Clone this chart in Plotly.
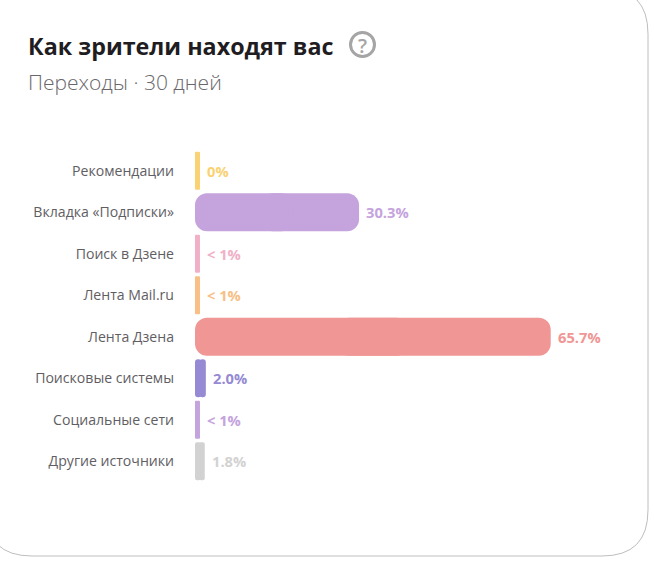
import plotly.graph_objects as go

W = 654
H = 576

categories = ['Рекомендации', 'Вкладка «Подписки»', 'Поиск в Дзене', 'Лента Mail.ru',
              'Лента Дзена', 'Поисковые системы', 'Социальные сети', 'Другие источники']
# share of views in %, the < 1% ones are estimates
values = [0, 30.3, 0.5, 0.5, 65.7, 2.0, 0.5, 1.8]
value_labels = ['0%', '30.3%', '< 1%', '< 1%', '65.7%', '2.0%', '< 1%', '1.8%']
colors = ['#F9D273', '#C5A3DD', '#F0B1C8', '#F8BF86', '#F09695', '#958AD3', '#C5A3DD', '#D2D2D2']

MIN_BAR = 0.92  # small values still get a thin pill
lengths = [max(v, MIN_BAR) for v in values]

PLOT_L, PLOT_R = 195, 574
X_MAX = 70
PX_PER_UNIT = (PLOT_R - PLOT_L) / X_MAX


def px(x):
    return x / W


def py(y):
    return 1 - y / H


def text(x, y, s, size, color, family='Open Sans', anchor='left', weight=None):
    return dict(x=px(x), y=py(y), xref='paper', yref='paper', text=s, showarrow=False,
                xanchor=anchor, yanchor='middle',
                font=dict(size=size, color=color, family=family, weight=weight))


fig = go.Figure()

# plotly only rounds the far end of a bar, so each bar is two halves pointing opposite ways
for cat, length, color in zip(categories, lengths, colors):
    radius = min(12, length * PX_PER_UNIT / 2)
    marker = dict(color=color, line_width=0, cornerradius=radius)
    fig.add_trace(go.Bar(y=[cat], x=[length * 0.6], base=[length * 0.4], orientation='h',
                         marker=marker, width=0.92, opacity=1, hoverinfo='skip'))
    fig.add_trace(go.Bar(y=[cat], x=[-length * 0.6], base=[length * 0.6], orientation='h',
                         marker=marker, width=0.92, opacity=1, hoverinfo='skip'))

annotations = [
    text(26, 46, 'Как зрители находят вас', 23.3, '#1F1D22', weight=700),
    text(26, 82, 'Переходы · 30 дней', 21, '#69676B', weight=300),
    text(362.5, 45, '?', 20, '#A5A5A5', anchor='center', weight=600),
]
for cat, length, label, color in zip(categories, lengths, value_labels, colors):
    annotations.append(dict(x=length, y=cat, xref='x', yref='y', text='<b>%s</b>' % label,
                            showarrow=False, xanchor='left', xshift=5,
                            font=dict(size=14.7, color=color, family='Open Sans')))

# card outline, its top left corner runs off the picture
R = 46
L, T, RI, B = -14, -12, 648, 556
card = (f'M {px(L + R)} {py(T)} L {px(RI - R)} {py(T)} Q {px(RI)} {py(T)} {px(RI)} {py(T + R)} '
        f'L {px(RI)} {py(B - R)} Q {px(RI)} {py(B)} {px(RI - R)} {py(B)} '
        f'L {px(L + R)} {py(B)} Q {px(L)} {py(B)} {px(L)} {py(B - R)} '
        f'L {px(L)} {py(T + R)} Q {px(L)} {py(T)} {px(L + R)} {py(T)} Z')

shapes = [
    dict(type='path', xref='paper', yref='paper', path=card, line=dict(color='#BEBEBE', width=1),
         fillcolor='white', layer='below'),
    dict(type='circle', xref='paper', yref='paper', x0=px(350.5), x1=px(374.5), y0=py(56.5), y1=py(32.5),
         line=dict(color='#A5A5A5', width=3)),
]

fig.update_layout(
    width=W, height=H,
    margin=dict(l=0, r=0, t=0, b=0),
    paper_bgcolor='white', plot_bgcolor='rgba(0,0,0,0)',
    showlegend=False,
    barmode='overlay',
    annotations=annotations,
    shapes=shapes,
    xaxis=dict(domain=[PLOT_L / W, PLOT_R / W], range=[0, X_MAX], visible=False, fixedrange=True),
    yaxis=dict(domain=[1 - 482 / H, 1 - 150 / H], autorange='reversed', categoryorder='array',
               categoryarray=categories, showgrid=False, zeroline=False, showline=False,
               ticks='', ticklabelstandoff=20, fixedrange=True,
               tickfont=dict(size=14.1, color='#5F5E63', family='Open Sans')),
)

fig.write_html("out.html", config=dict(displayModeBar=False),
               post_script="document.body.style.margin='0';")
